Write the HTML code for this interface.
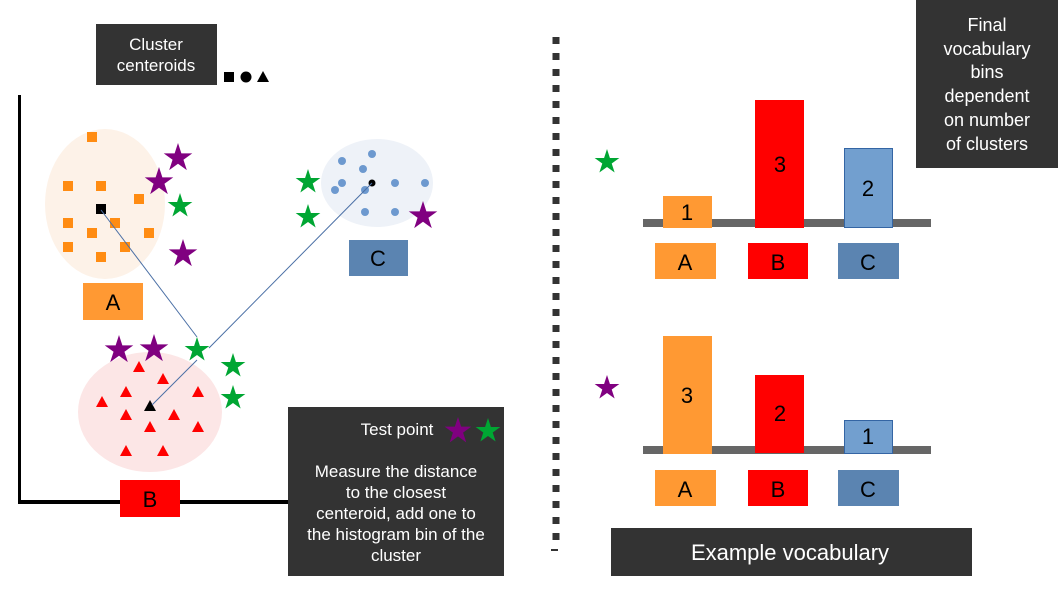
<!DOCTYPE html>
<html><head><meta charset="utf-8"><style>
html,body{margin:0;padding:0;background:#fff;}
svg{display:block;}
text{font-family:"Liberation Sans",sans-serif;}
</style></head><body>
<svg width="1058" height="595" viewBox="0 0 1058 595" xmlns="http://www.w3.org/2000/svg">
<defs>
<polygon id="st" points="0,-1 0.2245,-0.309 0.951,-0.309 0.363,0.118 0.588,0.809 0,0.382 -0.588,0.809 -0.363,0.118 -0.951,-0.309 -0.2245,-0.309"/>
<rect id="sq" x="-5" y="-5" width="10" height="10" fill="#ff8c12"/>
<polygon id="tr" points="0,-6 6,5 -6,5" fill="#ff0000"/>
<circle id="dt" r="4" fill="#6d99cf"/>
</defs>

<rect x="18" y="95" width="3" height="409" fill="#000"/>
<rect x="18" y="500" width="275" height="4" fill="#000"/>

<ellipse cx="105" cy="204" rx="60" ry="75" fill="#fdf2e8"/>
<ellipse cx="377" cy="183" rx="56" ry="44" fill="#eef2f8"/>
<ellipse cx="150" cy="412" rx="72" ry="60" fill="#fce6e6"/>

<use href="#sq" x="92" y="137"/><use href="#sq" x="68" y="186"/><use href="#sq" x="101" y="186"/>
<use href="#sq" x="139" y="199"/><use href="#sq" x="68" y="223"/><use href="#sq" x="115" y="223"/>
<use href="#sq" x="92" y="233"/><use href="#sq" x="149" y="233"/><use href="#sq" x="68" y="247"/>
<use href="#sq" x="125" y="247"/><use href="#sq" x="101" y="257"/>
<rect x="96" y="204" width="10" height="10" fill="#000"/>

<use href="#dt" x="342" y="161"/><use href="#dt" x="372" y="154"/><use href="#dt" x="363" y="169"/>
<use href="#dt" x="342" y="183"/><use href="#dt" x="335" y="190"/><use href="#dt" x="365" y="190"/>
<use href="#dt" x="395" y="183"/><use href="#dt" x="425" y="183"/><use href="#dt" x="365" y="212"/>
<use href="#dt" x="395" y="212"/>
<circle cx="372" cy="183" r="3.5" fill="#000"/>

<use href="#tr" x="139" y="367"/><use href="#tr" x="163" y="379"/><use href="#tr" x="126" y="392"/>
<use href="#tr" x="198" y="392"/><use href="#tr" x="102" y="402"/><use href="#tr" x="126" y="415"/>
<use href="#tr" x="174" y="415"/><use href="#tr" x="150" y="427"/><use href="#tr" x="198" y="427"/>
<use href="#tr" x="126" y="451"/><use href="#tr" x="163" y="451"/>
<polygon points="150,400 156,411 144,411" fill="#000"/>

<line x1="101" y1="210" x2="197" y2="337" stroke="#4a6fa5" stroke-width="1"/>
<line x1="372" y1="183" x2="209" y2="348" stroke="#4a6fa5" stroke-width="1"/>
<line x1="197" y1="360" x2="152" y2="405" stroke="#4a6fa5" stroke-width="1"/>

<g fill="#800080">
<use href="#st" transform="translate(178,158) scale(15)"/>
<use href="#st" transform="translate(159,182) scale(15)"/>
<use href="#st" transform="translate(183,254) scale(15)"/>
<use href="#st" transform="translate(119,350) scale(15)"/>
<use href="#st" transform="translate(154,349) scale(15)"/>
<use href="#st" transform="translate(423,216) scale(15)"/>
<use href="#st" transform="translate(607,388) scale(13)"/>
</g>
<g fill="#00a633">
<use href="#st" transform="translate(180,206) scale(13)"/>
<use href="#st" transform="translate(308,182) scale(13)"/>
<use href="#st" transform="translate(308,217) scale(13)"/>
<use href="#st" transform="translate(197,350) scale(13)"/>
<use href="#st" transform="translate(233,366) scale(13)"/>
<use href="#st" transform="translate(233,398) scale(13)"/>
<use href="#st" transform="translate(607,162) scale(13)"/>
</g>

<rect x="83" y="283" width="60" height="37" fill="#ff9933"/>
<text x="113" y="310" font-size="22" text-anchor="middle" fill="#000">A</text>
<rect x="120" y="480" width="60" height="37" fill="#ff0000"/>
<text x="150" y="507" font-size="22" text-anchor="middle" fill="#000">B</text>
<rect x="349" y="240" width="59" height="36" fill="#5b84b1"/>
<text x="378" y="266" font-size="22" text-anchor="middle" fill="#000">C</text>

<rect x="96" y="24" width="121" height="61" fill="#333"/>
<text x="156" y="50" font-size="17" text-anchor="middle" fill="#fff">Cluster</text>
<text x="156" y="71" font-size="17" text-anchor="middle" fill="#fff">centeroids</text>
<rect x="224" y="72" width="10" height="10" fill="#000"/>
<circle cx="246" cy="77" r="5.5" fill="#000"/>
<polygon points="263,71 269,82 257,82" fill="#000"/>

<rect x="288" y="407" width="216" height="169" fill="#333"/>
<text x="397" y="435" font-size="17" text-anchor="middle" fill="#fff">Test point</text>
<use href="#st" fill="#800080" transform="translate(458,431) scale(14)"/>
<use href="#st" fill="#00a633" transform="translate(488,431) scale(13)"/>
<g font-size="17" text-anchor="middle" fill="#fff">
<text x="396" y="477">Measure the distance</text>
<text x="396" y="498">to the closest</text>
<text x="396" y="519">centeroid, add one to</text>
<text x="396" y="540">the histogram bin of the</text>
<text x="396" y="561">cluster</text>
</g>

<line x1="556" y1="37" x2="556" y2="540" stroke="#333" stroke-width="7" stroke-dasharray="7 9"/>
<rect x="551" y="549" width="7" height="2" fill="#333"/>

<rect x="643" y="219" width="288" height="8" fill="#666"/>
<rect x="663" y="196" width="49" height="32" fill="#ff9933"/>
<text x="687" y="220" font-size="22" text-anchor="middle" fill="#000">1</text>
<rect x="755" y="100" width="49" height="128" fill="#ff0000"/>
<text x="780" y="172" font-size="22" text-anchor="middle" fill="#000">3</text>
<rect x="844.5" y="148.5" width="48" height="79" fill="#729fcf" stroke="#3465a4"/>
<text x="868" y="196" font-size="22" text-anchor="middle" fill="#000">2</text>
<rect x="655" y="243" width="61" height="36" fill="#ff9933"/>
<text x="685" y="270" font-size="22" text-anchor="middle" fill="#000">A</text>
<rect x="748" y="243" width="60" height="36" fill="#ff0000"/>
<text x="778" y="270" font-size="22" text-anchor="middle" fill="#000">B</text>
<rect x="838" y="243" width="61" height="36" fill="#5b84b1"/>
<text x="868" y="270" font-size="22" text-anchor="middle" fill="#000">C</text>

<rect x="916" y="0" width="142" height="168" fill="#333"/>
<g font-size="18" text-anchor="middle" fill="#fff">
<text x="987" y="31">Final</text>
<text x="987" y="55">vocabulary</text>
<text x="987" y="78">bins</text>
<text x="987" y="102">dependent</text>
<text x="987" y="126">on number</text>
<text x="987" y="150">of clusters</text>
</g>

<rect x="643" y="446" width="288" height="8" fill="#666"/>
<rect x="663" y="336" width="49" height="118" fill="#ff9933"/>
<text x="687" y="403" font-size="22" text-anchor="middle" fill="#000">3</text>
<rect x="755" y="375" width="49" height="78" fill="#ff0000"/>
<text x="780" y="421" font-size="22" text-anchor="middle" fill="#000">2</text>
<rect x="844.5" y="420.5" width="48" height="33" fill="#729fcf" stroke="#3465a4"/>
<text x="868" y="444" font-size="22" text-anchor="middle" fill="#000">1</text>
<rect x="655" y="470" width="61" height="36" fill="#ff9933"/>
<text x="685" y="497" font-size="22" text-anchor="middle" fill="#000">A</text>
<rect x="748" y="470" width="60" height="36" fill="#ff0000"/>
<text x="778" y="497" font-size="22" text-anchor="middle" fill="#000">B</text>
<rect x="838" y="470" width="61" height="36" fill="#5b84b1"/>
<text x="868" y="497" font-size="22" text-anchor="middle" fill="#000">C</text>

<rect x="611" y="528" width="361" height="48" fill="#333"/>
<text x="790" y="560" font-size="22" text-anchor="middle" fill="#fff">Example vocabulary</text>
</svg>
</body></html>
